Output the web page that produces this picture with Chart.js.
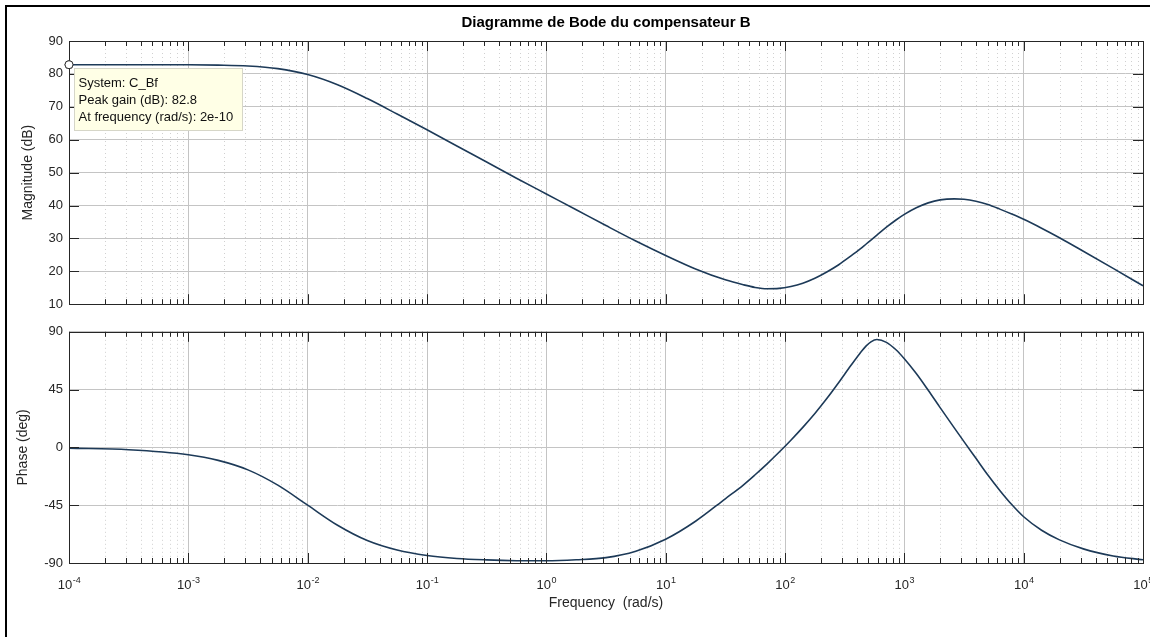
<!DOCTYPE html>
<html>
<head>
<meta charset="utf-8">
<script src="https://cdn.jsdelivr.net/npm/chart.js@4.4.1/dist/chart.umd.min.js"></script>
<style>
  html, body { margin: 0; padding: 0; background: #fff; width: 1150px; height: 637px; overflow: hidden; }
  #frame { position: absolute; left: 5px; top: 5px; width: 1300px; height: 800px;
           border-left: 2px solid #000; border-top: 2px solid #000; z-index: 5; pointer-events: none; }
  .pane { position: absolute; left: 0; width: 1150px; }
  #magPane { top: 0; height: 318px; }
  #phPane { top: 318px; height: 319px; }
</style>
</head>
<body>
<div id="frame"></div>
<div class="pane" id="magPane"><canvas id="magChart" width="1150" height="318"></canvas></div>
<div class="pane" id="phPane"><canvas id="phChart" width="1150" height="319"></canvas></div>
<script>
// Frequency response of compensator C_Bf (rad/s, dB, degrees)
const freqRad = [1e-4, 3.16e-4, 1e-3, 1.78e-3, 3.16e-3, 5.62e-3, 1e-2, 1.78e-2, 3.16e-2, 5.62e-2,
                 0.1, 0.178, 0.316, 0.562, 1, 1.78, 3.16, 5.62, 10, 17.8,
                 31.6, 44.7, 56.2, 70.8, 89.1, 112, 141, 178, 224, 282,
                 355, 427, 479, 525, 589, 708, 851, 1000, 1259, 1585,
                 1995, 2630, 3162, 3981, 5012, 6310, 7943, 1e4, 14125, 19953,
                 31623, 56234, 1e5];
const magDb = [82.8, 82.8, 82.76, 82.66, 82.4, 81.6, 79.8, 76.7, 72.5, 67.8,
               63.0, 58.1, 53.2, 48.3, 43.5, 38.7, 33.9, 29.2, 24.8, 20.7,
               17.4, 15.9, 15.1, 14.7, 14.8, 15.4, 16.4, 17.9, 19.8, 22.0,
               24.6, 26.8, 28.3, 29.5, 31.0, 33.4, 35.6, 37.3, 39.3, 40.8,
               41.7, 42.0, 41.9, 41.3, 40.3, 38.9, 37.4, 35.8, 33.1, 30.2,
               26.1, 20.9, 15.6];
const phaseDeg = [-0.6, -1.8, -5.7, -10.1, -17.5, -29.4, -45, -60.6, -72.5, -79.9,
                  -84.2, -86.5, -87.6, -88.2, -88.3, -87.5, -85.8, -80.8, -71.5, -57.5,
                  -40, -29.3, -21.3, -12.8, -3.8, 5.6, 15.6, 26.4, 38.0, 50.5,
                  63.5, 73.5, 79.0, 82.2, 84.0, 81.8, 76.0, 69.0, 57.5, 44.5,
                  31, 15, 4.5, -8.5, -21.5, -33.5, -44.5, -54, -64.5, -72,
                  -79, -84.5, -87.5];

// Axis ticks
const decadeExp = [-4, -3, -2, -1, 0, 1, 2, 3, 4, 5];
const magTicks = [10, 20, 30, 40, 50, 60, 70, 80, 90];
const phaseTicks = [-90, -45, 0, 45, 90];

// Data tip
const tipFreq = 1e-4;
const peakGainDb = 82.8;
const tipLines = ['System: C_Bf', 'Peak gain (dB): ' + peakGainDb, 'At frequency (rad/s): 2e-10'];

const FONT = "'Liberation Sans', Arial, Helvetica, sans-serif";
const INK = '#262626';
const GRID = '#c4c4c4';
const CURVE = '#1d3a58';

const isDecade = v => Math.abs(Math.log10(v) - Math.round(Math.log10(v))) < 1e-6;

function xTickList() {
  const out = [];
  decadeExp.forEach((e, i) => {
    out.push(Math.pow(10, e));
    if (i < decadeExp.length - 1) {
      for (let m = 2; m <= 9; m++) out.push(m * Math.pow(10, e));
    }
  });
  return out;
}

// Minor dotted grid, axes box and inward tick marks
const axesBox = {
  id: 'axesBox',
  beforeDatasetsDraw(chart) {
    const { ctx, chartArea: a, scales: { x } } = chart;
    ctx.save();
    ctx.strokeStyle = '#d0d0d0';
    ctx.lineWidth = 1;
    ctx.setLineDash([1, 3]);
    x.ticks.forEach(t => {
      if (isDecade(t.value)) return;
      const px = Math.round(x.getPixelForValue(t.value)) + 0.5;
      ctx.beginPath(); ctx.moveTo(px, a.top); ctx.lineTo(px, a.bottom); ctx.stroke();
    });
    ctx.restore();
  },
  afterDatasetsDraw(chart) {
    const { ctx, chartArea: a, scales: { x, y } } = chart;
    ctx.save();
    ctx.strokeStyle = INK;
    ctx.lineWidth = 1;
    ctx.setLineDash([]);
    ctx.strokeRect(Math.round(a.left) + 0.5, Math.round(a.top) + 0.5,
                   Math.round(a.right - a.left), Math.round(a.bottom - a.top));
    ctx.beginPath();
    x.ticks.forEach(t => {
      const px = Math.round(x.getPixelForValue(t.value)) + 0.5;
      const len = isDecade(t.value) ? 10 : 5;
      ctx.moveTo(px, a.top); ctx.lineTo(px, a.top + len);
      ctx.moveTo(px, a.bottom); ctx.lineTo(px, a.bottom - len);
    });
    y.ticks.forEach(t => {
      const py = Math.round(y.getPixelForValue(t.value)) + 0.5;
      ctx.moveTo(a.left, py); ctx.lineTo(a.left + 10, py);
      ctx.moveTo(a.right, py); ctx.lineTo(a.right - 10, py);
    });
    ctx.stroke();
    ctx.restore();
  }
};

// Chart title (top pane), frequency labels (bottom pane) and the data tip
const paneText = {
  id: 'paneText',
  afterDraw(chart, args, opts) {
    const { ctx, chartArea: a, scales: { x } } = chart;
    ctx.save();
    ctx.fillStyle = '#000';
    if (opts.title) {
      ctx.font = 'bold 15px ' + FONT;
      ctx.textAlign = 'center';
      ctx.textBaseline = 'middle';
      ctx.fillText(opts.title, (a.left + a.right) / 2, 23);
    }
    if (opts.xLabels) {
      ctx.fillStyle = INK;
      ctx.textBaseline = 'alphabetic';
      ctx.textAlign = 'left';
      decadeExp.forEach(e => {
        const cx = x.getPixelForValue(Math.pow(10, e));
        const sup = String(e);
        ctx.font = '13px ' + FONT;
        const wb = ctx.measureText('10').width;
        ctx.font = '9px ' + FONT;
        const ws = ctx.measureText(sup).width;
        const x0 = cx - (wb + ws) / 2;
        ctx.font = '13px ' + FONT;
        ctx.fillText('10', x0, a.bottom + 26);
        ctx.font = '9px ' + FONT;
        ctx.fillText(sup, x0 + wb + 0.5, a.bottom + 20);
      });
      ctx.font = '14px ' + FONT;
      ctx.textAlign = 'center';
      ctx.fillText('Frequency  (rad/s)', (a.left + a.right) / 2, a.bottom + 44);
    }
    if (opts.tip) {
      const p = chart.getDatasetMeta(1).data[0];
      const bx = Math.round(p.x) + 5.5, by = Math.round(p.y) + 3.5;
      const bw = 168, bh = 62;
      ctx.fillStyle = '#ffffe6';
      ctx.strokeStyle = '#d6d6c8';
      ctx.lineWidth = 1;
      ctx.fillRect(bx, by, bw, bh);
      ctx.strokeRect(bx, by, bw, bh);
      ctx.fillStyle = '#111';
      ctx.font = '13px ' + FONT;
      ctx.textAlign = 'left';
      ctx.textBaseline = 'middle';
      tipLines.forEach((s, i) => ctx.fillText(s, bx + 4, by + 15 + i * 17));
      ctx.beginPath();
      ctx.arc(p.x, p.y, 4, 0, Math.PI * 2);
      ctx.fillStyle = '#fff';
      ctx.fill();
      ctx.strokeStyle = '#333';
      ctx.stroke();
    }
    ctx.restore();
  }
};

function xScale() {
  return {
    type: 'logarithmic',
    min: Math.pow(10, decadeExp[0]),
    max: Math.pow(10, decadeExp[decadeExp.length - 1]),
    afterBuildTicks: s => { s.ticks = xTickList().map(v => ({ value: v, major: isDecade(v) })); },
    afterFit: s => { s.height = 0; },
    ticks: { display: false, autoSkip: false },
    grid: {
      drawTicks: false,
      color: c => (c.tick && isDecade(c.tick.value)) ? GRID : 'rgba(0,0,0,0)',
      lineWidth: 1
    },
    border: { display: false }
  };
}

function yScale(ticks, title, titlePad) {
  return {
    type: 'linear',
    min: ticks[0],
    max: ticks[ticks.length - 1],
    afterBuildTicks: s => { s.ticks = ticks.map(v => ({ value: v })); },
    afterFit: s => { s.width = 69; },
    ticks: { color: INK, font: { family: FONT, size: 13 }, padding: 6 },
    grid: { drawTicks: false, color: GRID, lineWidth: 1 },
    border: { display: false },
    title: { display: true, text: title, color: INK, font: { family: FONT, size: 14 },
             padding: { top: titlePad, bottom: 0 } }
  };
}

const common = {
  responsive: false,
  animation: false,
  events: [],
  plugins: { legend: { display: false }, tooltip: { enabled: false } }
};

const curvePoints = vals => freqRad.map((f, i) => ({ x: f, y: vals[i] }));

new Chart(document.getElementById('magChart'), {
  type: 'line',
  data: {
    datasets: [
      { data: curvePoints(magDb), borderColor: CURVE, borderWidth: 1.6, pointRadius: 0,
        cubicInterpolationMode: 'monotone', clip: 2 },
      { data: [{ x: tipFreq, y: peakGainDb }], showLine: false, pointRadius: 4,
        pointBackgroundColor: '#fff', pointBorderColor: '#333', pointBorderWidth: 1, clip: false }
    ]
  },
  options: {
    ...common,
    layout: { padding: { left: 0, right: 7, top: 41, bottom: 6 } },
    scales: { x: xScale(), y: yScale(magTicks, 'Magnitude (dB)', 20) },
    plugins: { ...common.plugins,
      paneText: { title: 'Diagramme de Bode du compensateur B', tip: true } }
  },
  plugins: [axesBox, paneText]
});

new Chart(document.getElementById('phChart'), {
  type: 'line',
  data: {
    datasets: [
      { data: curvePoints(phaseDeg), borderColor: CURVE, borderWidth: 1.6, pointRadius: 0,
        cubicInterpolationMode: 'monotone', clip: 2 }
    ]
  },
  options: {
    ...common,
    layout: { padding: { left: 0, right: 7, top: 6, bottom: 74 } },
    scales: { x: xScale(), y: yScale(phaseTicks, 'Phase (deg)', 15) },
    plugins: { ...common.plugins, paneText: { xLabels: true } }
  },
  plugins: [axesBox, paneText]
});
</script>
</body>
</html>
